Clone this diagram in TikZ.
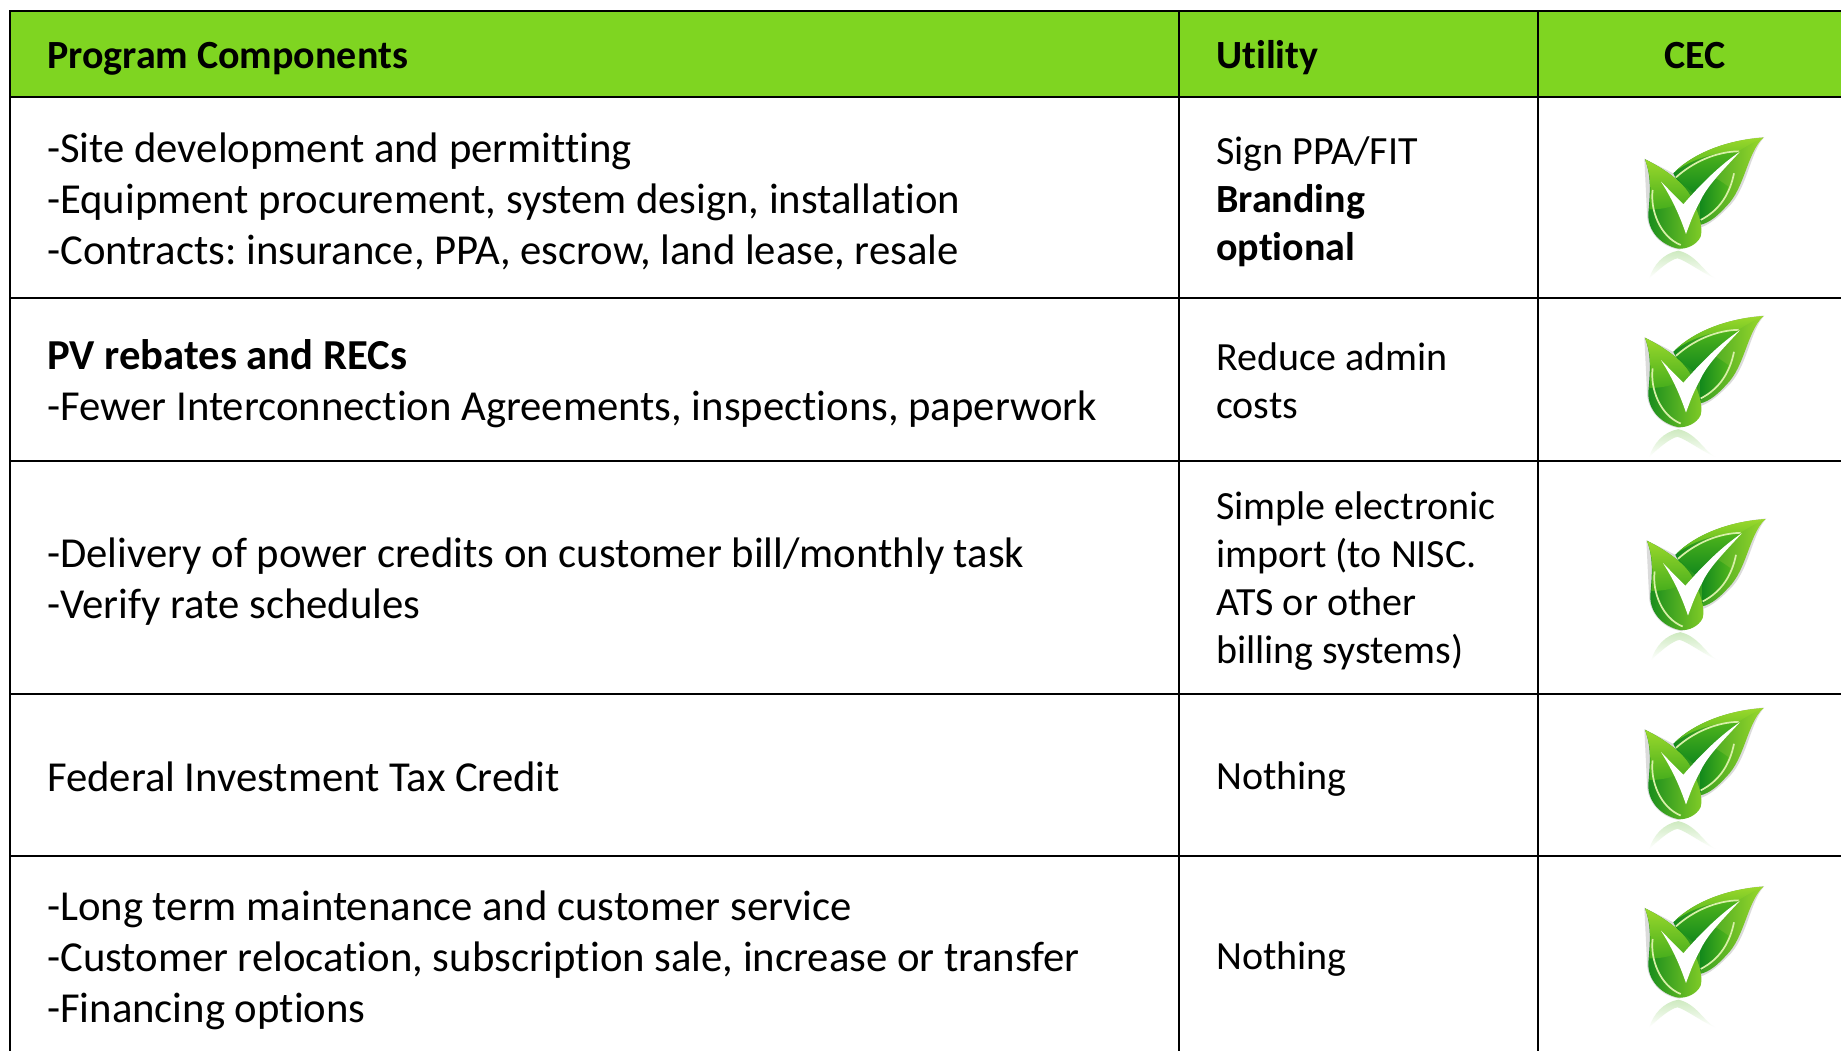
\documentclass[tikz,border=0pt]{standalone}
\usepackage{fontspec}
\setmainfont{Carlito}[Ligatures=NoCommon]
\frenchspacing
\definecolor{hdr}{HTML}{7FD521}
\definecolor{lfL}{HTML}{9AD82C}
\definecolor{lfM}{HTML}{4FB41C}
\definecolor{lfD}{HTML}{13891C}
\definecolor{lfH}{HTML}{D8F0A8}
\tikzset{
  rule/.style={line width=2.4pt,black},
  hcell/.style={anchor=west,inner sep=0pt,font=\fontsize{40}{48}\selectfont\bfseries},
  maincell/.style={anchor=west,inner sep=0pt,align=left,font=\fontsize{42.7}{51}\selectfont},
  utilcell/.style={anchor=west,inner sep=0pt,align=left,font=\fontsize{40}{48}\selectfont},
  pics/leafmark/.style={code={
    \begin{scope}[x=0.3333pt,y=-0.3333pt]
      % reflection
      \shade[top color=lfM!28,bottom color=white] (355,482) .. controls (310,490) and (280,525) .. (268,565) .. controls (300,535) and (330,510) .. (352,505) .. controls (375,510) and (420,545) .. (465,565) .. controls (430,545) and (410,495) .. (355,482) -- cycle;
      % soft shadow
      \fill[black!14] (340,250) .. controls (400,190) and (500,150) .. (613,141) .. controls (568,190) and (562,300) .. (502,354) .. controls (475,382) and (450,402) .. (424,412) -- (360,479) .. controls (300,472) and (260,420) .. (261,370) -- (253,206) -- cycle;
      % back leaf: base, bright right side, dark heart
      \shade[left color=lfD,right color=lfL] (610,143) .. controls (500,150) and (400,190) .. (340,250) -- (420,405) .. controls (450,398) and (475,375) .. (498,350) .. controls (555,295) and (560,190) .. (610,143) -- cycle;
      \shade[top color=lfL,bottom color=lfM] (610,143) .. controls (500,150) and (400,190) .. (345,245) .. controls (400,205) and (470,185) .. (536,184) .. controls (555,170) and (585,155) .. (610,143) -- cycle;
      \shade[top color=lfM,bottom color=lfD] (348,262) .. controls (400,215) and (470,185) .. (536,184) -- (440,290) -- (400,310) -- cycle;
      \shade[left color=lfD,right color=lfM] (420,395) .. controls (460,375) and (490,340) .. (505,290) .. controls (480,272) and (465,262) .. (450,258) .. controls (430,285) and (420,310) .. (420,335) -- cycle;
      \draw[lfH,line width=1.7pt] (348,262) .. controls (400,215) and (470,185) .. (536,184);
      \draw[lfH,line width=1.7pt] (522,250) .. controls (510,310) and (480,360) .. (422,390);
      % front leaf
      \shade[left color=lfD,right color=lfL!70!lfM] (255,208) .. controls (310,235) and (370,275) .. (392,320) .. controls (415,365) and (430,410) .. (422,440) .. controls (410,465) and (380,478) .. (355,476) .. controls (300,465) and (262,420) .. (265,370) .. controls (270,310) and (275,260) .. (255,208) -- cycle;
      \shade[top color=lfL,bottom color=lfM!85!lfD] (255,208) .. controls (310,235) and (370,275) .. (392,320) .. controls (370,340) and (320,360) .. (268,358) .. controls (272,310) and (275,260) .. (255,208) -- cycle;
      \draw[lfH,line width=1.7pt] (278,300) .. controls (270,360) and (300,440) .. (362,465);
      % check
      \fill[white] (303,275) -- (370,343) .. controls (420,285) and (480,225) .. (540,185) .. controls (480,250) and (440,290) .. (420,335) .. controls (400,370) and (390,400) .. (378,432) .. controls (365,395) and (345,340) .. (303,275) -- cycle;
    \end{scope}
  }}
}
\begin{document}
\begin{tikzpicture}[x=1pt,y=-1pt]
\useasboundingbox (0,0) rectangle (1841,1051);
\fill[white] (0,0) rectangle (1841,1051);
% header band
\fill[hdr] (10,11) rectangle (1841,97);
% rules
\coordinate (tl) at (10,11);
\draw[rule] (1841,11) -- (tl) -- (10,1051);
\foreach \yy in {97,298,461,694,856}{ \draw[rule] (10,\yy) -- (1841,\yy); }
\draw[rule] (1179,11) -- (1179,1051);
\draw[rule] (1538,11) -- (1538,1051);
% leaves
\foreach \dx/\dy in {0/0,0/178.5,2/381.5,0/570.5,0/749}{
  \pic at (1560+\dx,90+\dy) {leafmark};
}
% white edge of the second leaf's picture, over the rule
\fill[white] (1640,458) rectangle (1767,460.2);
% header text
\node[hcell] (h1) at (47,58.5) {Program Components};
\node[hcell] (h2) at (1216,58) {Utility};
\node[hcell,anchor=center] (h3) at (1695,56) {CEC};
% main column
\node[maincell] (m1) at (47,201.5) {-Site development and permitting\\-Equipment procurement, system design, installation\\-Contracts: insurance, PPA, escrow, land lease, resale};
\node[maincell] (m2) at (47,384) {\textbf{PV rebates and RECs}\\-Fewer Interconnection Agreements, inspections, paperwork};
\node[maincell] (m3) at (47,582) {-Delivery of power credits on customer bill/monthly task\\-Verify rate schedules};
\node[maincell] (m4) at (47,776.5) {Federal Investment Tax Credit};
\node[maincell] (m5) at (47,960) {-Long term maintenance and customer service\\-Customer relocation, subscription sale, increase or transfer\\-Financing options};
% utility column
\node[utilcell] (u1) at (1216,201.5) {Sign PPA/FIT\\\textbf{Branding}\\\textbf{optional}};
\node[utilcell] (u2) at (1216,381) {Reduce admin\\costs};
\node[utilcell] (u3) at (1216,581.5) {Simple electronic\\import (to NISC.\\ATS or other\\billing systems)};
\node[utilcell] (u4) at (1216,779.5) {Nothing};
\node[utilcell] (u5) at (1216,959.5) {Nothing};
\end{tikzpicture}
\end{document}
